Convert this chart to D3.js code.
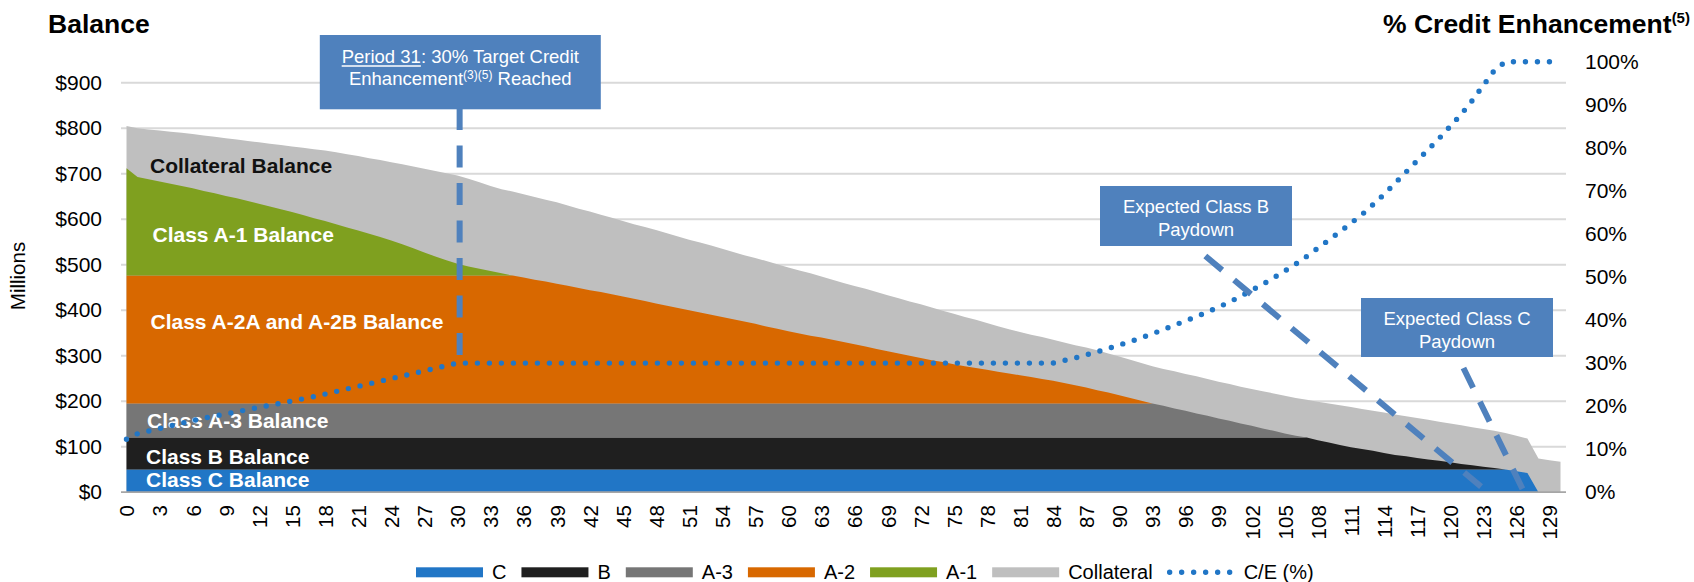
<!DOCTYPE html>
<html>
<head>
<meta charset="utf-8">
<script src="https://cdn.jsdelivr.net/npm/d3@7"></script>
<style>
  body { margin: 0; background: #fff; }
  svg text { font-family: "Liberation Sans", Arial, sans-serif; }
</style>
</head>
<body>
<svg id="chart" width="1694" height="582"></svg>
<script>
// periods 0..130, every 3rd one is labelled
const periods = d3.range(0, 131);
const tickLabels = periods.filter(p => p % 3 === 0);
const leftTicks = [0, 100, 200, 300, 400, 500, 600, 700, 800, 900];
const rightTicks = [0, 0.1, 0.2, 0.3, 0.4, 0.5, 0.6, 0.7, 0.8, 0.9, 1];

// balances in $ millions
const classC = [
  50, 50, 50, 50, 50, 50, 50, 50, 50, 50,
  50, 50, 50, 50, 50, 50, 50, 50, 50, 50,
  50, 50, 50, 50, 50, 50, 50, 50, 50, 50,
  50, 50, 50, 50, 50, 50, 50, 50, 50, 50,
  50, 50, 50, 50, 50, 50, 50, 50, 50, 50,
  50, 50, 50, 50, 50, 50, 50, 50, 50, 50,
  50, 50, 50, 50, 50, 50, 50, 50, 50, 50,
  50, 50, 50, 50, 50, 50, 50, 50, 50, 50,
  50, 50, 50, 50, 50, 50, 50, 50, 50, 50,
  50, 50, 50, 50, 50, 50, 50, 50, 50, 50,
  50, 50, 50, 50, 50, 50, 50, 50, 50, 50,
  50, 50, 50, 50, 50, 50, 50, 50, 50, 50,
  50, 50, 50, 50, 50, 50, 46, 42, 0, 0,
  0
];
const classB = [
  70, 70, 70, 70, 70, 70, 70, 70, 70, 70,
  70, 70, 70, 70, 70, 70, 70, 70, 70, 70,
  70, 70, 70, 70, 70, 70, 70, 70, 70, 70,
  70, 70, 70, 70, 70, 70, 70, 70, 70, 70,
  70, 70, 70, 70, 70, 70, 70, 70, 70, 70,
  70, 70, 70, 70, 70, 70, 70, 70, 70, 70,
  70, 70, 70, 70, 70, 70, 70, 70, 70, 70,
  70, 70, 70, 70, 70, 70, 70, 70, 70, 70,
  70, 70, 70, 70, 70, 70, 70, 70, 70, 70,
  70, 70, 70, 70, 70, 70, 70, 70, 70, 70,
  70, 70, 70, 70, 70, 70, 70, 70, 64, 59,
  54, 49, 45, 41, 36, 32, 29, 25, 22, 19,
  16, 12, 9, 6, 3, 0, 0, 0, 0, 0,
  0
];
const classA3 = [
  75, 75, 75, 75, 75, 75, 75, 75, 75, 75,
  75, 75, 75, 75, 75, 75, 75, 75, 75, 75,
  75, 75, 75, 75, 75, 75, 75, 75, 75, 75,
  75, 75, 75, 75, 75, 75, 75, 75, 75, 75,
  75, 75, 75, 75, 75, 75, 75, 75, 75, 75,
  75, 75, 75, 75, 75, 75, 75, 75, 75, 75,
  75, 75, 75, 75, 75, 75, 75, 75, 75, 75,
  75, 75, 75, 75, 75, 75, 75, 75, 75, 75,
  75, 75, 75, 75, 75, 75, 75, 75, 75, 75,
  75, 75, 75, 75, 70, 64, 59, 53, 48, 42,
  37, 31, 26, 20, 15, 9, 4, 0, 0, 0,
  0, 0, 0, 0, 0, 0, 0, 0, 0, 0,
  0, 0, 0, 0, 0, 0, 0, 0, 0, 0,
  0
];
const classA2 = [
  281, 281, 281, 281, 281, 281, 281, 281, 281, 281,
  281, 281, 281, 281, 281, 281, 281, 281, 281, 281,
  281, 281, 281, 281, 281, 281, 281, 281, 281, 281,
  281, 281, 281, 281, 281, 281, 277, 272, 268, 263,
  259, 254, 249, 245, 240, 235, 230, 225, 220, 215,
  210, 205, 200, 195, 190, 185, 180, 175, 169, 164,
  159, 154, 149, 145, 140, 135, 130, 125, 120, 115,
  110, 105, 100, 95, 91, 86, 82, 78, 74, 70,
  66, 62, 58, 54, 50, 45, 40, 35, 29, 24,
  18, 12, 6, 0, 0, 0, 0, 0, 0, 0,
  0, 0, 0, 0, 0, 0, 0, 0, 0, 0,
  0, 0, 0, 0, 0, 0, 0, 0, 0, 0,
  0, 0, 0, 0, 0, 0, 0, 0, 0, 0,
  0
];
const classA1 = [
  236, 217, 212, 207, 202, 197, 192, 186, 181, 175,
  170, 164, 158, 152, 146, 140, 133, 126, 120, 113,
  106, 99, 92, 85, 77, 69, 60, 51, 42, 34,
  26, 20, 15, 10, 5, 0, 0, 0, 0, 0,
  0, 0, 0, 0, 0, 0, 0, 0, 0, 0,
  0, 0, 0, 0, 0, 0, 0, 0, 0, 0,
  0, 0, 0, 0, 0, 0, 0, 0, 0, 0,
  0, 0, 0, 0, 0, 0, 0, 0, 0, 0,
  0, 0, 0, 0, 0, 0, 0, 0, 0, 0,
  0, 0, 0, 0, 0, 0, 0, 0, 0, 0,
  0, 0, 0, 0, 0, 0, 0, 0, 0, 0,
  0, 0, 0, 0, 0, 0, 0, 0, 0, 0,
  0, 0, 0, 0, 0, 0, 0, 0, 0, 0,
  0
];
const collateral = [
  805, 800, 797, 795, 792, 790, 787, 784, 781, 778,
  775, 772, 769, 766, 763, 760, 757, 754, 751, 747,
  743, 739, 734, 730, 725, 721, 716, 711, 706, 701,
  696, 689, 681, 673, 666, 661, 655, 649, 643, 637,
  630, 623, 617, 610, 603, 596, 589, 583, 576, 569,
  562, 555, 549, 542, 535, 528, 521, 515, 508, 501,
  494, 487, 481, 474, 467, 460, 453, 447, 440, 433,
  426, 419, 413, 406, 399, 392, 385, 379, 372, 365,
  358, 352, 346, 341, 335, 329, 323, 318, 312, 305,
  298, 291, 284, 277, 271, 266, 260, 255, 249, 243,
  238, 232, 227, 222, 217, 212, 207, 203, 199, 195,
  191, 187, 183, 179, 175, 171, 167, 163, 159, 155,
  151, 147, 143, 139, 135, 130, 124, 118, 74, 70,
  67
];
// credit enhancement, %
const ceValues = [
  12.3, 13.6, 14.2, 14.8, 15.4, 16.0, 16.6, 17.2, 17.7, 18.2,
  18.7, 19.2, 19.7, 20.2, 20.7, 21.2, 21.7, 22.2, 22.8, 23.4,
  24.0, 24.6, 25.2, 25.8, 26.4, 27.0, 27.6, 28.2, 28.8, 29.4,
  30, 30, 30, 30, 30, 30, 30, 30, 30, 30,
  30, 30, 30, 30, 30, 30, 30, 30, 30, 30,
  30, 30, 30, 30, 30, 30, 30, 30, 30, 30,
  30, 30, 30, 30, 30, 30, 30, 30, 30, 30,
  30, 30, 30, 30, 30, 30, 30, 30, 30, 30,
  30, 30, 30, 30, 30, 30.6, 31.2, 31.9, 32.6, 33.4,
  34.2, 35.0, 35.9, 36.8, 37.8, 38.8, 39.8, 40.8, 41.9, 43.0,
  44.2, 45.5, 46.9, 48.3, 49.8, 51.4, 53.0, 54.8, 56.7, 58.6,
  60.5, 62.5, 64.5, 66.8, 69.2, 71.8, 74.4, 77.0, 79.6, 82.2,
  85.0, 87.8, 91.0, 94.5, 98.0, 100, 100, 100, 100, 100,
  100
];

const legendNames = ["C", "B", "A-3", "A-2", "A-1", "Collateral", "C/E (%)"];

const colors = {
  C: "#2176c6", B: "#1f1f1f", A3: "#767676", A2: "#d86800",
  A1: "#7fa01f", Collateral: "#bfbfbf", CE: "#2176c6", callout: "#4f81bd"
};

const svg = d3.select("#chart");
const plotLeft = 121, plotRight = 1566;

const x = d3.scaleLinear().domain([0, 130]).range([126.5, 1560.5]);
const yL = d3.scaleLinear().domain([0, 1000]).range([492.2, 37.2]);
const yR = d3.scaleLinear().domain([0, 1]).range([492.2, 61.8]);

// gridlines
svg.append("g")
  .selectAll("line")
  .data(leftTicks.filter(d => d > 0))
  .join("line")
  .attr("x1", plotLeft).attr("x2", plotRight)
  .attr("y1", d => yL(d)).attr("y2", d => yL(d))
  .attr("stroke", "#d9d9d9").attr("stroke-width", 2);

// collateral drawn behind the class stack
const collArea = d3.area()
  .x((d, i) => x(periods[i]))
  .y0(yL(0))
  .y1(d => yL(d));
svg.append("path").datum(collateral)
  .attr("d", collArea).attr("fill", colors.Collateral);

const rows = periods.map((p, i) => ({
  p, C: classC[i], B: classB[i], A3: classA3[i], A2: classA2[i], A1: classA1[i]
}));
const keys = ["C", "B", "A3", "A2", "A1"];
const stacked = d3.stack().keys(keys)(rows);
const area = d3.area()
  .x(d => x(d.data.p))
  .y0(d => yL(d[0]))
  .y1(d => yL(d[1]));

svg.append("g")
  .selectAll("path")
  .data(stacked)
  .join("path")
  .attr("d", area)
  .attr("fill", d => colors[d.key]);

// bottom axis line
svg.append("line")
  .attr("x1", plotLeft).attr("x2", plotRight)
  .attr("y1", yL(0)).attr("y2", yL(0))
  .attr("stroke", "#a6a6a6").attr("stroke-width", 1.8);

// series labels inside the areas
const areaLabels = [
  { text: "Collateral Balance", x: 150, y: 172.5, fill: "#111" },
  { text: "Class A-1 Balance", x: 152.5, y: 241.5, fill: "#fff" },
  { text: "Class A-2A and A-2B Balance", x: 150.5, y: 329, fill: "#fff" },
  { text: "Class A-3 Balance", x: 147, y: 428.3, fill: "#fff" },
  { text: "Class B Balance", x: 146, y: 464, fill: "#fff" },
  { text: "Class C Balance", x: 146, y: 487.3, fill: "#fff" }
];
svg.append("g")
  .selectAll("text")
  .data(areaLabels)
  .join("text")
  .attr("x", d => d.x).attr("y", d => d.y)
  .attr("fill", d => d.fill)
  .attr("font-size", 21).attr("font-weight", "bold")
  .text(d => d.text);

// left axis labels
const leftAxis = svg.append("g")
  .attr("transform", `translate(${plotLeft},0)`)
  .call(d3.axisLeft(yL).tickValues(leftTicks).tickSize(0).tickPadding(19)
    .tickFormat(d => "$" + d));
leftAxis.select(".domain").remove();
leftAxis.selectAll("text").attr("font-size", 21).attr("fill", "#000")
  .attr("font-family", "Liberation Sans, Arial, sans-serif");

// right axis labels
const rightAxis = svg.append("g")
  .attr("transform", `translate(${plotRight},0)`)
  .call(d3.axisRight(yR).tickValues(rightTicks).tickSize(0).tickPadding(19)
    .tickFormat(d3.format(".0%")));
rightAxis.select(".domain").remove();
rightAxis.selectAll("text").attr("font-size", 21).attr("fill", "#000")
  .attr("font-family", "Liberation Sans, Arial, sans-serif");

// bottom axis labels, rotated
const bottomAxis = svg.append("g")
  .attr("transform", `translate(0,${yL(0)})`)
  .call(d3.axisBottom(x).tickValues(tickLabels).tickSize(0));
bottomAxis.select(".domain").remove();
bottomAxis.selectAll("text")
  .attr("x", 0).attr("y", 0).attr("dy", "0.36em")
  .attr("transform", "translate(0,13) rotate(-90)")
  .attr("text-anchor", "end")
  .attr("font-size", 20.5).attr("fill", "#000")
  .attr("font-family", "Liberation Sans, Arial, sans-serif");

// titles
svg.append("text").attr("x", 48).attr("y", 33)
  .attr("font-size", 26.5).attr("font-weight", "bold").text("Balance");
const rt = svg.append("text").attr("x", 1383).attr("y", 33)
  .attr("font-size", 26.5).attr("font-weight", "bold");
rt.append("tspan").text("% Credit Enhancement");
rt.append("tspan").attr("font-size", 15).attr("dy", -10).text("(5)");

svg.append("text")
  .attr("transform", "translate(25,276) rotate(-90)")
  .attr("text-anchor", "middle").attr("font-size", 20.5).text("Millions");

// annotation dashed lines
const dashLines = [
  { x1: x(30.2), y1: 108, x2: x(30.2), y2: yL(297) },
  { x1: x(97.8), y1: 256, x2: x(123.4), y2: yL(0) },
  { x1: x(121.2), y1: 368, x2: x(126.7), y2: yL(0) }
];

// C/E dotted line
const ceLine = d3.line()
  .x((d, i) => x(periods[i]))
  .y(d => yR(d / 100));
svg.append("path").datum(ceValues)
  .attr("d", ceLine)
  .attr("fill", "none")
  .attr("stroke", colors.CE)
  .attr("stroke-width", 5.4)
  .attr("stroke-linecap", "round")
  .attr("stroke-dasharray", "0,12");

svg.append("g")
  .selectAll("line")
  .data(dashLines)
  .join("line")
  .attr("x1", d => d.x1).attr("y1", d => d.y1)
  .attr("x2", d => d.x2).attr("y2", d => d.y2)
  .attr("stroke", colors.callout)
  .attr("stroke-width", 6)
  .attr("stroke-dasharray", "22,15.5");

// callout boxes
function callout(cx, top, w, h) {
  svg.append("rect")
    .attr("x", cx - w / 2).attr("y", top).attr("width", w).attr("height", h)
    .attr("fill", colors.callout);
}

callout(460.3, 35, 281, 74.3);
const t1 = svg.append("text").attr("x", 460.3).attr("y", 63.3)
  .attr("text-anchor", "middle").attr("font-size", 18.5).attr("fill", "#fff");
t1.append("tspan").text("Period 31");
t1.append("tspan").text(": 30% Target Credit");
{
  const sx = t1.node().getStartPositionOfChar(0).x;
  const len = t1.node().getSubStringLength(0, 9);
  svg.append("line")
    .attr("x1", sx).attr("x2", sx + len)
    .attr("y1", 66).attr("y2", 66)
    .attr("stroke", "#fff").attr("stroke-width", 1.3);
}
const t2 = svg.append("text").attr("x", 460.3).attr("y", 85)
  .attr("text-anchor", "middle").attr("font-size", 18.5).attr("fill", "#fff");
t2.append("tspan").text("Enhancement");
t2.append("tspan").attr("font-size", 12).attr("dy", -6).text("(3)(5)");
t2.append("tspan").attr("dy", 6).text(" Reached");

callout(1196, 186, 192, 60);
svg.append("text").attr("x", 1196).attr("y", 213.3)
  .attr("text-anchor", "middle").attr("font-size", 18.5).attr("fill", "#fff")
  .text("Expected Class B");
svg.append("text").attr("x", 1196).attr("y", 236)
  .attr("text-anchor", "middle").attr("font-size", 18.5).attr("fill", "#fff")
  .text("Paydown");

callout(1457, 298, 192, 59);
svg.append("text").attr("x", 1457).attr("y", 325)
  .attr("text-anchor", "middle").attr("font-size", 18.5).attr("fill", "#fff")
  .text("Expected Class C");
svg.append("text").attr("x", 1457).attr("y", 347.5)
  .attr("text-anchor", "middle").attr("font-size", 18.5).attr("fill", "#fff")
  .text("Paydown");

// legend
const legendFills = [colors.C, colors.B, colors.A3, colors.A2, colors.A1, colors.Collateral, null];
const legend = svg.append("g");
let lx = 416;
const ly = 572.3;
legendNames.forEach((name, i) => {
  if (legendFills[i]) {
    legend.append("rect").attr("x", lx).attr("y", ly - 5).attr("width", 67).attr("height", 10)
      .attr("fill", legendFills[i]);
  } else {
    legend.append("line").attr("x1", lx + 2).attr("x2", lx + 65)
      .attr("y1", ly).attr("y2", ly)
      .attr("stroke", colors.CE).attr("stroke-width", 5.4)
      .attr("stroke-linecap", "round").attr("stroke-dasharray", "0,12");
  }
  const t = legend.append("text").attr("x", lx + 76).attr("y", ly)
    .attr("dy", "0.35em").attr("font-size", 20).text(name);
  lx += 76 + t.node().getComputedTextLength() + 15;
});
</script>
</body>
</html>
